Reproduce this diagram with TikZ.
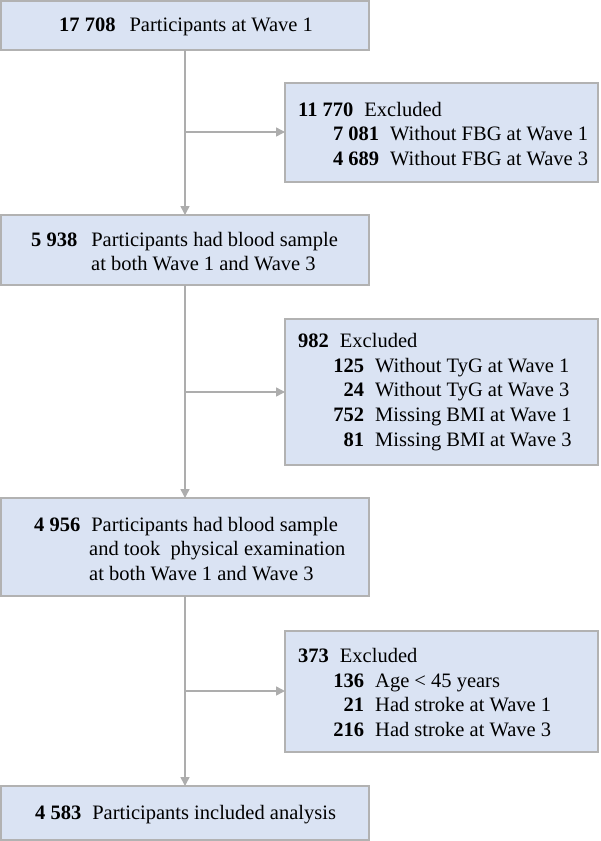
\documentclass[tikz,border=0pt]{standalone}
\usepackage{fontspec}
\setmainfont{Liberation Serif}
\usetikzlibrary{arrows.meta}
\begin{document}
\begin{tikzpicture}[x=1pt,y=-1pt,
  box/.style={draw=black!30,line width=1.3pt,fill=bx},
  ln/.style={draw=black!32,line width=1.5pt},
  arr/.style={ln,-{Triangle[length=9pt,width=9pt]}},
  txt/.style={anchor=west,inner sep=0pt,font=\fontsize{20.5}{24.7}\selectfont,align=left}]
\definecolor{bx}{HTML}{DAE3F3}
\useasboundingbox (0,0) rectangle (600,841);
\newcommand{\nb}[2]{\makebox[#1pt][r]{\textbf{#2}}}
% boxes
\path[box] (1,1) rectangle (369,50);
\path[box] (285,83) rectangle (598,182);
\path[box] (1,215) rectangle (369,285);
\path[box] (285,319) rectangle (598,465);
\path[box] (1,498) rectangle (369,596);
\path[box] (285,631) rectangle (598,752);
\path[box] (1,786) rectangle (369,840);
\coordinate (c1) at (185,50); \coordinate (c3t) at (185,215);
\coordinate (c3) at (185,285); \coordinate (c5t) at (185,498);
\coordinate (c5) at (185,596); \coordinate (c7t) at (185,786);
\coordinate (h1) at (185,132); \coordinate (e1) at (285,132);
\coordinate (h2) at (185,392); \coordinate (e2) at (285,392);
\coordinate (h3) at (185,691); \coordinate (e3) at (285,691);
\draw[arr] (c1) -- (c3t);
\draw[arr] (c3) -- (c5t);
\draw[arr] (c5) -- (c7t);
\draw[arr] (h1) -- (e1);
\draw[arr] (h2) -- (e2);
\draw[arr] (h3) -- (e3);
% texts
\node[txt] (t1) at (59,27) {\textbf{17 708}\hspace{14pt}Participants at Wave 1};
\node[txt] (t2) at (298,134) {\textbf{11 770}\hspace{11pt}Excluded\\
 \nb{81}{7 081}\hspace{11pt}Without FBG at Wave 1\\
 \nb{81}{4 689}\hspace{11pt}Without FBG at Wave 3};
\node[txt] (t3) at (31,251.5) {\textbf{5 938}\hspace{14pt}Participants had blood sample\\
 \hspace{60pt}at both Wave 1 and Wave 3};
\node[txt] (t4) at (298,392) {\textbf{982}\hspace{11pt}Excluded\\
 \nb{66}{125}\hspace{11pt}Without TyG at Wave 1\\
 \nb{66}{24}\hspace{11pt}Without TyG at Wave 3\\
 \nb{66}{752}\hspace{11pt}Missing BMI at Wave 1\\
 \nb{66}{81}\hspace{11pt}Missing BMI at Wave 3};
\node[txt] (t5) at (34,549) {\textbf{4 956}\hspace{11pt}Participants had blood sample\\
 \hspace{55pt}and took\ \ physical examination\\
 \hspace{55pt}at both Wave 1 and Wave 3};
\node[txt] (t6) at (298,692.5) {\textbf{373}\hspace{11pt}Excluded\\
 \nb{66}{136}\hspace{11pt}Age < 45 years\\
 \nb{66}{21}\hspace{11pt}Had stroke at Wave 1\\
 \nb{66}{216}\hspace{11pt}Had stroke at Wave 3};
\node[txt] (t7) at (35,815) {\textbf{4 583}\hspace{11pt}Participants included analysis};
\end{tikzpicture}
\end{document}
